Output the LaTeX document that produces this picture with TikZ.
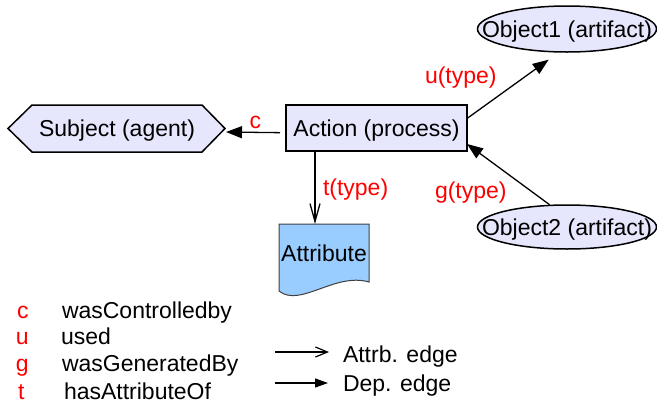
\documentclass[tikz,border=0pt]{standalone}
\usepackage{fontspec}
\setmainfont{Liberation Sans}
\usetikzlibrary{arrows.meta,shapes.geometric,calc,backgrounds}
\definecolor{lav}{RGB}{230,230,252}
\definecolor{attrblue}{RGB}{153,204,255}
\begin{document}
\begin{tikzpicture}[x=1pt,y=-1pt,
  every node/.style={font=\fontsize{23pt}{27pt}\selectfont},
  txt/.style={inner sep=0pt, outer sep=0pt, anchor=base west},
  lbl/.style={txt, text=red},
  ctext/.style={inner sep=0pt, outer sep=0pt, text height=16.5pt, text depth=0pt},
  procbox/.style={ctext, draw=black, line width=1.5pt, fill=lav, minimum width=181pt, minimum height=46pt},
  subjbox/.style={ctext, minimum width=170pt, minimum height=47pt},
  ellbox/.style={ellipse, draw=black, line width=1.5pt, fill=lav, minimum width=179pt, minimum height=46pt, inner sep=0pt},
  dep/.style={line width=1.3pt, -{Triangle[length=16pt,width=12pt]}},
  depsmall/.style={line width=1.2pt, -{Triangle[length=13pt,width=9pt]}},
  attre/.style={line width=1.3pt, -{Straight Barb[length=18pt,width=10pt]}},
  attresmall/.style={line width=1.2pt, -{Straight Barb[length=12pt,width=10pt]}},
]
\useasboundingbox (0,0) rectangle (657,405);

% Subject (hexagon)
\node[subjbox] (subject) at (117,128.5) {Subject (agent)};
\coordinate (subjtip) at ($(subject.east)+(23,0)$);
\coordinate (subjtail) at ($(subject.west)+(-24,0)$);
\begin{pgfonlayer}{background}
\draw[line width=1.5pt, fill=lav] (subject.north west) -- (subject.north east) -- (subjtip)
  -- (subject.south east) -- (subject.south west) -- (subjtail) -- cycle;
\end{pgfonlayer}

% Action
\node[procbox] (action) at (376.5,128) {Action (process)};

% Objects
\node[ellbox] (obj1) at (567,29) {};
\node[ctext] (obj1t) at (obj1.center) {Object1 (artifact)};
\node[ellbox, minimum height=44pt] (obj2) at (567,227) {};
\node[ctext] (obj2t) at (obj2.center) {Object2 (artifact)};

% Attribute (document shape)
\node[minimum width=90pt, minimum height=67pt, inner sep=0pt, outer sep=0pt] (attr) at (324,257.5) {};
\draw[line width=1pt, draw=black!75, fill=attrblue] (attr.south west) -- (attr.north west) -- (attr.north east)
  -- ($(attr.south east)+(0,-9)$) .. controls ($(attr.south east)+(-34,-19)$) and ($(attr.south west)+(21,17)$) .. (attr.south west) -- cycle;
\node[txt, anchor=base] (attrt) at (324,261) {Attribute};

% Connectors
\draw[dep, shorten <=6pt] (action.183) -- ($(subjtip)+(1,3.5)$);
\draw[dep, shorten >=12pt] (action.6) -- (obj1.250);
\draw[dep] (obj2.128) -- (action.-10);
\coordinate (tx) at ($(attr.north)+(-9,0)$);
\draw[attre] (action.south -| tx) -- (tx);

% Edge labels
\node[lbl] (lc) at (249.5,128) {c};
\node[lbl] (lu) at (425,83) {u(type)};
\node[lbl] (lg) at (435,198) {g(type)};
\node[lbl] (lt) at (323,195) {t(type)};

% Legend
\node[lbl] (k1) at (17,318) {c};
\node[txt] (v1) at (62,318) {wasControlledby};
\node[lbl] (k2) at (16,344) {u};
\node[txt] (v2) at (61,344) {used};
\node[lbl] (k3) at (16,371) {g};
\node[txt] (v3) at (62,371) {wasGeneratedBy};
\node[lbl] (k4) at (18,399) {t};
\node[txt] (v4) at (64,399) {hasAttributeOf};

\coordinate (a1s) at (275,352);
\coordinate (a1e) at (329,352);
\draw[attresmall] (a1s) -- (a1e);
\node[txt] (l1) at (343,362) {Attrb. edge};
\coordinate (a2s) at (275,383);
\coordinate (a2e) at (328,383);
\draw[depsmall] (a2s) -- (a2e);
\node[txt] (l2) at (343,391) {Dep. edge};
\end{tikzpicture}
\end{document}
